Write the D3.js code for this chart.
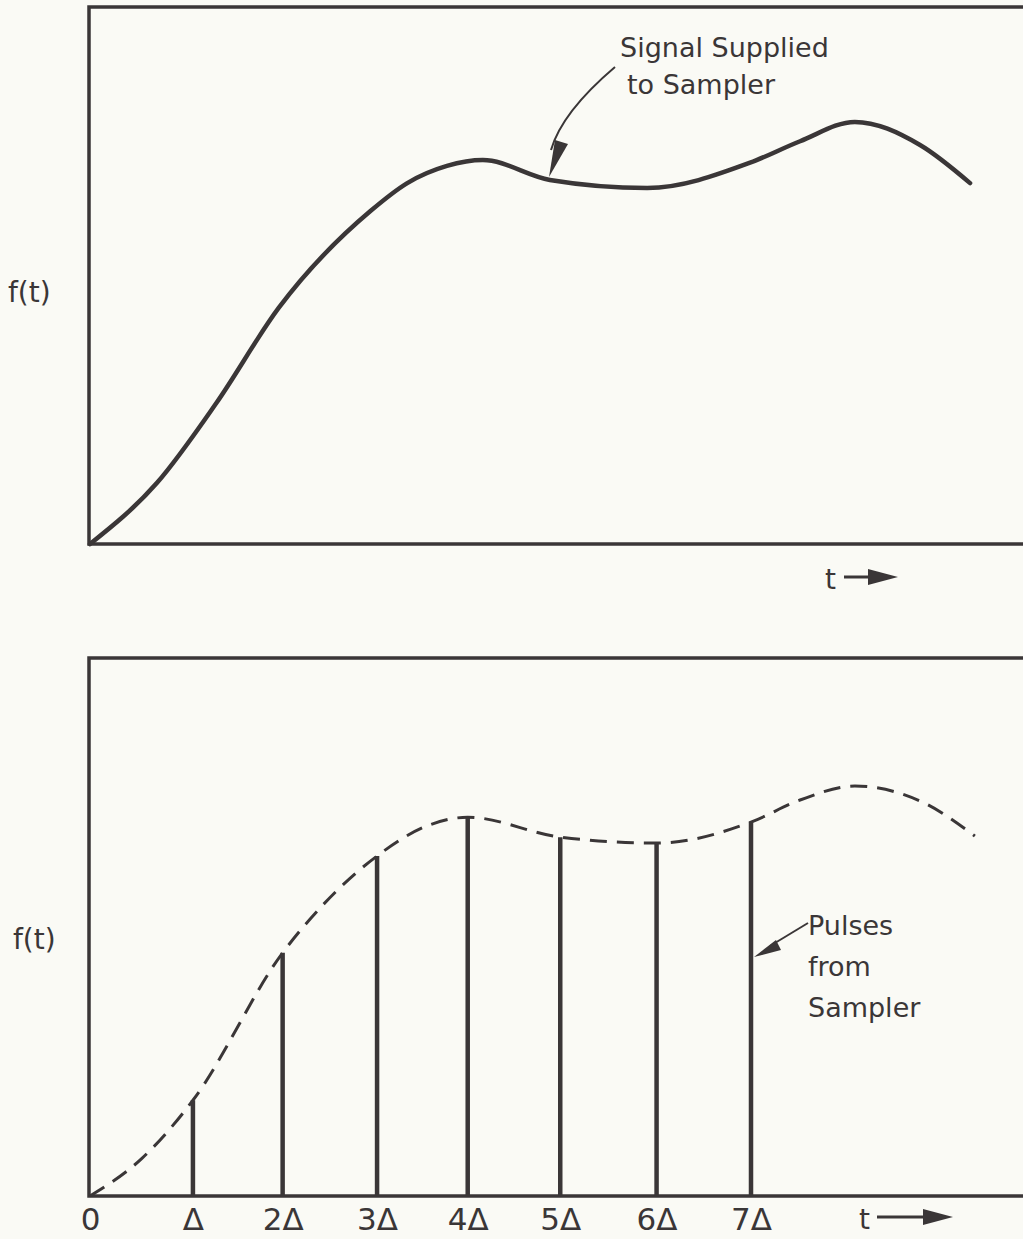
<!DOCTYPE html>
<html>
<head>
<meta charset="utf-8">
<script src="https://cdn.jsdelivr.net/npm/d3@7"></script>
<style>
  body { margin: 0; background: #fafaf5; }
  svg { display: block; }
  text { font-family: "DejaVu Sans", sans-serif; fill: #3a3637; }
</style>
</head>
<body>
<div id="chart"></div>
<script>
// signal supplied to sampler (t in units of delta)
var signalT = [0, 0.71, 1.34, 2.0, 2.97, 3.36, 3.78, 4.16, 4.87, 5.9, 6.99, 7.52, 8.1, 8.79, 9.32];
var signalF = [0, 1.14, 2.63, 4.4, 6.2, 6.72, 7.04, 7.15, 6.78, 6.63, 7.1, 7.5, 7.86, 7.43, 6.72];

// dashed envelope in the lower panel
var envT = [0, 0.55, 1.09, 2.04, 2.6, 3.04, 3.6, 4.0, 4.98, 6.0, 7.0, 7.52, 8.1, 8.84, 9.37];
var envF = [0, 0.7, 1.78, 4.52, 5.65, 6.32, 6.9, 7.04, 6.67, 6.56, 6.95, 7.36, 7.62, 7.3, 6.69];

// sample pulses
var sampleT = [1.09, 2.04, 3.04, 4.0, 4.98, 6.0, 7.0];
var sampleF = [1.78, 4.52, 6.32, 7.04, 6.67, 6.56, 6.95];

// tick labels
var tickT = [0, 1.09, 2.04, 3.04, 4.0, 4.98, 6.0, 7.0];
var tickLabels = ["0", "Δ", "2Δ", "3Δ", "4Δ", "5Δ", "6Δ", "7Δ"];

var ink = "#3a3637";
var svgWidth = 1023, svgHeight = 1239;

var svg = d3.select("#chart").append("svg")
  .attr("width", svgWidth)
  .attr("height", svgHeight);

var x = d3.scaleLinear().domain([0, 7]).range([90, 751]);
var yTop = d3.scaleLinear().domain([0, 10]).range([544, 7]);
var yBot = d3.scaleLinear().domain([0, 10]).range([1196, 658]);

// panel frames
[[7, 544], [658, 1196]].forEach(function(p) {
  svg.append("rect")
    .attr("x", 89).attr("y", p[0])
    .attr("width", 1000).attr("height", p[1] - p[0])
    .attr("fill", "none")
    .attr("stroke", ink)
    .attr("stroke-width", 3.5);
});

// top panel: continuous signal
var topLine = d3.line()
  .x(function(d, i) { return x(signalT[i]); })
  .y(function(d) { return yTop(d); })
  .curve(d3.curveMonotoneX);

svg.append("path")
  .attr("d", topLine(signalF))
  .attr("fill", "none")
  .attr("stroke", ink)
  .attr("stroke-width", 4.5)
  .attr("stroke-linecap", "round");

// annotation arrow
svg.append("path")
  .attr("d", "M615,67 Q562,112 551,150")
  .attr("fill", "none")
  .attr("stroke", ink)
  .attr("stroke-width", 2);
svg.append("path")
  .attr("d", "M555,140 L568,144 L549,177 Z")
  .attr("fill", ink);

svg.append("text").attr("x", 620).attr("y", 57)
  .attr("font-size", 27).text("Signal Supplied");
svg.append("text").attr("x", 627).attr("y", 94)
  .attr("font-size", 27).text("to Sampler");

// y labels
svg.append("text").attr("x", 8).attr("y", 302)
  .attr("font-size", 28).text("f(t)");
svg.append("text").attr("x", 13).attr("y", 949)
  .attr("font-size", 28).text("f(t)");

// t arrows
function tArrow(tx, ty, x1, x2) {
  svg.append("text").attr("x", tx).attr("y", ty)
    .attr("font-size", 28).text("t");
  svg.append("line")
    .attr("x1", x1).attr("x2", x2 - 28)
    .attr("y1", ty - 12).attr("y2", ty - 12)
    .attr("stroke", ink).attr("stroke-width", 3);
  svg.append("path")
    .attr("d", "M" + (x2 - 30) + "," + (ty - 20) + " L" + x2 + "," + (ty - 12) + " L" + (x2 - 30) + "," + (ty - 4) + " Z")
    .attr("fill", ink);
}
tArrow(825, 589, 844, 898);
tArrow(859, 1229, 877, 953);

// bottom panel: dashed envelope
var botLine = d3.line()
  .x(function(d, i) { return x(envT[i]); })
  .y(function(d) { return yBot(d); })
  .curve(d3.curveMonotoneX);

svg.append("path")
  .attr("d", botLine(envF))
  .attr("fill", "none")
  .attr("stroke", ink)
  .attr("stroke-width", 3)
  .attr("stroke-dasharray", "17,10");

// pulses
svg.selectAll(".pulse")
  .data(sampleF)
  .enter()
  .append("line")
  .attr("class", "pulse")
  .attr("x1", function(d, i) { return x(sampleT[i]); })
  .attr("x2", function(d, i) { return x(sampleT[i]); })
  .attr("y1", yBot(0))
  .attr("y2", function(d) { return yBot(d); })
  .attr("stroke", ink)
  .attr("stroke-width", 4.5);

// x axis labels
var xAxis = d3.axisBottom(x)
  .tickValues(tickT)
  .tickSize(0)
  .tickPadding(0)
  .tickFormat(function(d, i) { return tickLabels[i]; });

var axisG = svg.append("g")
  .attr("transform", "translate(0,1206)")
  .call(xAxis);
axisG.select(".domain").remove();
axisG.selectAll("text")
  .attr("font-size", 31)
  .attr("font-family", "DejaVu Sans, sans-serif")
  .attr("fill", ink)
  .attr("dy", "0.76em");

// pulse annotation
svg.append("path")
  .attr("d", "M808,923 L770,946")
  .attr("stroke", ink).attr("stroke-width", 2);
svg.append("path")
  .attr("d", "M754,957 L776,940 L781,950 Z")
  .attr("fill", ink);

["Pulses", "from", "Sampler"].forEach(function(s, i) {
  svg.append("text").attr("x", 808).attr("y", 935 + i * 41)
    .attr("font-size", 27).text(s);
});
</script>
</body>
</html>
